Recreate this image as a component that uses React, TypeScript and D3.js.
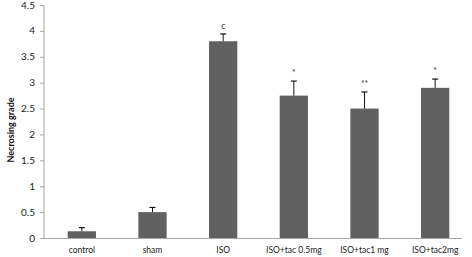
import React from "react";
import * as d3 from "d3";

const categories = ["control", "sham", "ISO", "ISO+tac 0.5mg", "ISO+tac1 mg", "ISO+tac2mg"];
const values = [0.13, 0.5, 3.8, 2.75, 2.5, 2.9];
const errors = [0.07, 0.09, 0.14, 0.28, 0.32, 0.17];
const marks = ["", "", "c", "*", "**", "*"];
const yTicks = [0, 0.5, 1, 1.5, 2, 2.5, 3, 3.5, 4, 4.5];

const W = 472;
const H = 257;
const font = "Lato, 'Liberation Sans', sans-serif";

export default function App() {
  const x = d3.scaleBand<string>().domain(categories).range([46.5, 470.5]).paddingInner(0.6).paddingOuter(0.3);
  const y = d3.scaleLinear().domain([0, 4.5]).range([238, 5]);
  const axisX = 44;
  return (
    <svg width={W} height={H} style={{ position: "absolute", left: 0, top: 0, background: "#fff" }}>
      <line x1={axisX} x2={axisX} y1={y(4.5)} y2={y(0)} stroke="#a6a6a6" strokeWidth={1} />
      <line x1={axisX} x2={462} y1={y(0) + 0.5} y2={y(0) + 0.5} stroke="#a6a6a6" strokeWidth={1} />
      {yTicks.map((t) => (
        <g key={t}>
          <line x1={axisX - 4} x2={axisX} y1={y(t) + 0.5} y2={y(t) + 0.5} stroke="#a6a6a6" />
          <text x={35} y={y(t)} dy="0.35em" textAnchor="end" fontSize={10} fontFamily={font} fill="#222">
            {String(t)}
          </text>
        </g>
      ))}
      {categories.map((c, i) => {
        const bx = x(c) as number;
        const bw = x.bandwidth();
        const cx = bx + bw / 2;
        const top = y(values[i]);
        const et = y(values[i] + errors[i]);
        return (
          <g key={c}>
            <rect x={bx} y={top} width={bw} height={y(0) - top} fill="#616161" />
            <line x1={cx} x2={cx} y1={et} y2={top} stroke="#111" strokeWidth={1} />
            <line x1={cx - 3} x2={cx + 3} y1={et} y2={et} stroke="#111" strokeWidth={1.2} />
            {marks[i] && (
              <text x={cx} y={et - 5} textAnchor="middle" fontSize={8.5} fontFamily={font} fill="#333">
                {marks[i]}
              </text>
            )}
            <text x={cx} y={253} textAnchor="middle" fontSize={8.5} fontFamily={font} fill="#222">
              {c}
            </text>
          </g>
        );
      })}
      <text
        transform={`translate(14,${130}) rotate(-90)`}
        textAnchor="middle"
        fontSize={9}
        fontWeight="bold"
        fontFamily={font}
        fill="#111"
      >
        Necrosing grade
      </text>
    </svg>
  );
}
